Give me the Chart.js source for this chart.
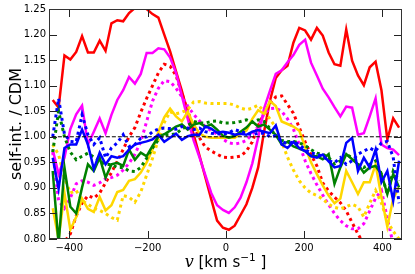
<!DOCTYPE html>
<html>
<head>
<meta charset="utf-8">
<script src="https://cdn.jsdelivr.net/npm/chart.js@4"></script>
<style>
  body { margin: 0; background: #fff; }
</style>
</head>
<body>
<canvas id="myChart" width="415" height="274"></canvas>
<script>
// bin centres [km/s]
let velocity = [-442.5, -427.5, -412.5, -397.5, -382.5, -367.5, -352.5, -337.5, -322.5, -307.5,
    -292.5, -277.5, -262.5, -247.5, -232.5, -217.5, -202.5, -187.5, -172.5, -157.5,
    -142.5, -127.5, -112.5, -97.5, -82.5, -67.5, -52.5, -37.5, -22.5, -7.5,
    7.5, 22.5, 37.5, 52.5, 67.5, 82.5, 97.5, 112.5, 127.5, 142.5,
    157.5, 172.5, 187.5, 202.5, 217.5, 232.5, 247.5, 262.5, 277.5, 292.5,
    307.5, 322.5, 337.5, 352.5, 367.5, 382.5, 397.5, 412.5, 427.5, 442.5];

let redSolid = [1.072, 1.057, 1.159, 1.151, 1.166, 1.197, 1.165, 1.165, 1.188, 1.168,
    1.222, 1.228, 1.226, 1.242, 1.252, 1.255, 1.25, 1.24, 1.233, 1.20,
    1.167, 1.128, 1.09, 1.047, 1.005, 0.963, 0.921, 0.878, 0.836, 0.822,
    0.818, 0.826, 0.847, 0.868, 0.90, 0.94, 1.01, 1.07, 1.115, 1.13,
    1.139, 1.184, 1.213, 1.208, 1.19, 1.213, 1.198, 1.165, 1.142, 1.139,
    1.21, 1.149, 1.12, 1.101, 1.136, 1.147, 1.091, 0.995, 1.036, 1.018];

let redDotted = [0.77, 0.78, 0.795, 0.81, 0.845, 0.87, 0.885, 0.88, 0.89, 0.91,
    0.93, 0.952, 0.975, 1.0, 1.018, 1.048, 1.075, 1.10, 1.125, 1.142,
    1.138, 1.12, 1.085, 1.05, 1.02, 0.998, 0.98, 0.972, 0.966, 0.96,
    0.959, 0.96, 0.962, 0.972, 0.99, 1.022, 1.045, 1.065, 1.078, 1.08,
    1.063, 1.046, 1.018, 0.99, 0.965, 0.943, 0.91, 0.894, 0.882, 0.871,
    0.855, 0.832, 0.81, 0.79, 0.78, 0.775, 0.77, 0.77, 0.77, 0.77];

let magentaSolid = [0.975, 0.927, 0.959, 1.015, 1.044, 1.061, 0.985, 1.01, 1.036, 1.007,
    1.043, 1.072, 1.091, 1.117, 1.104, 1.123, 1.164, 1.164, 1.173, 1.171,
    1.155, 1.125, 1.08, 1.035, 0.993, 0.96, 0.925, 0.89, 0.866, 0.857,
    0.851, 0.862, 0.881, 0.911, 0.948, 0.998, 1.055, 1.09, 1.123, 1.13,
    1.146, 1.16, 1.18, 1.19, 1.145, 1.12, 1.094, 1.077, 1.058, 1.04,
    1.059, 1.057, 1.004, 1.007, 1.04, 1.075, 0.985, 0.978, 0.975, 0.964];

let magentaDotted = [0.97, 0.875, 0.86, 0.88, 0.908, 0.914, 0.911, 0.905, 0.91, 0.918,
    0.92, 0.925, 0.935, 0.948, 0.966, 0.99, 1.03, 1.07, 1.095, 1.11,
    1.108, 1.095, 1.078, 1.06, 1.044, 1.031, 1.02, 1.012, 1.005, 0.995,
    0.988, 0.986, 0.988, 0.993, 1.005, 1.02, 1.045, 1.055, 1.056, 1.05,
    1.035, 1.015, 0.985, 0.953, 0.928, 0.906, 0.886, 0.867, 0.85, 0.836,
    0.826, 0.82, 0.82, 0.83, 0.855, 0.88, 0.895, 0.84, 0.79, 0.78];

let yellowSolid = [0.86, 0.80, 0.89, 0.818, 0.843, 0.879, 0.859, 0.853, 0.882, 0.856,
    0.866, 0.892, 0.896, 0.914, 0.917, 0.93, 0.95, 0.975, 1.01, 1.038,
    1.055, 1.04, 1.03, 1.049, 1.024, 1.007, 1.0, 0.998, 0.998, 0.998,
    0.998, 0.998, 1.005, 1.012, 1.035, 1.052, 1.045, 1.07, 1.06, 1.03,
    1.025, 1.02, 1.012, 0.98, 0.95, 0.927, 0.905, 0.885, 0.87, 0.879,
    0.933, 0.911, 0.888, 0.911, 0.911, 0.946, 0.882, 0.824, 0.879, 0.901];

let yellowDotted = [0.985, 0.965, 0.92, 0.89, 0.895, 0.875, 0.868, 0.86, 0.856, 0.85,
    0.842, 0.837, 0.885, 0.882, 0.872, 0.892, 0.925, 0.958, 0.995, 1.028,
    1.049, 1.045, 1.048, 1.053, 1.068, 1.069, 1.066, 1.065, 1.065, 1.065,
    1.065, 1.062, 1.056, 1.053, 1.056, 1.062, 1.05, 1.035, 1.018, 0.99,
    0.96, 0.935, 0.914, 0.90, 0.89, 0.885, 0.878, 0.868, 0.862, 0.859,
    0.863, 0.868, 0.863, 0.843, 0.87, 0.895, 0.87, 0.835, 0.815, 0.80];

let greenSolid = [0.933, 0.79, 0.94, 0.863, 0.85, 0.901, 0.946, 0.933, 0.959, 0.92,
    0.946, 0.949, 0.943, 0.975, 0.955, 0.969, 0.962, 0.982, 1.0, 1.005,
    1.012, 1.02, 1.024, 1.014, 1.024, 1.027, 1.02, 1.024, 1.014, 1.002,
    0.998, 1.002, 1.01, 1.018, 1.03, 1.02, 1.024, 1.014, 1.004, 0.985,
    0.99, 0.981, 0.977, 0.972, 0.962, 0.962, 0.956, 0.966, 0.908, 0.94,
    0.966, 0.956, 0.946, 0.93, 0.94, 0.943, 0.927, 0.888, 0.927, 0.901];

let greenDotted = [0.97, 1.05, 1.0, 0.97, 0.955, 0.962, 0.968, 0.96, 0.953, 0.946,
    0.946, 0.94, 0.94, 0.933, 0.932, 0.94, 0.958, 0.978, 0.994, 1.004,
    1.004, 1.006, 1.015, 1.022, 1.03, 1.027, 1.027, 1.03, 1.031, 1.027,
    1.027, 1.028, 1.03, 1.033, 1.028, 1.033, 1.03, 1.016, 1.003, 0.993,
    0.991, 0.991, 0.988, 0.983, 0.975, 0.968, 0.966, 0.959, 0.947, 0.953,
    0.966, 0.959, 0.946, 0.94, 0.946, 0.953, 0.927, 0.888, 0.933, 0.914];

let blueSolid = [0.959, 0.898, 0.978, 0.985, 0.985, 1.014, 0.985, 0.937, 0.969, 0.946,
    0.962, 0.959, 0.962, 0.975, 0.985, 0.988, 0.991, 0.995, 1.004, 0.99,
    0.998, 1.006, 0.994, 1.001, 1.004, 1.004, 1.02, 1.016, 1.008, 1.01,
    1.008, 1.004, 1.006, 1.004, 1.01, 1.013, 1.01, 1.007, 1.022, 0.985,
    0.978, 0.99, 0.978, 0.972, 0.962, 0.959, 0.965, 0.952, 0.94, 0.943,
    0.988, 0.998, 0.933, 0.959, 0.94, 0.975, 0.911, 0.933, 0.875, 0.953];

let blueDotted = [1.0, 1.075, 1.005, 0.991, 0.99, 1.043, 1.004, 0.985, 0.998, 0.959,
    0.978, 0.988, 1.004, 0.981, 0.985, 0.997, 1.0, 1.01, 1.015, 1.017,
    1.016, 1.015, 1.02, 1.017, 1.014, 1.017, 1.01, 1.007, 1.006, 1.005,
    1.008, 1.014, 1.01, 1.007, 1.004, 1.007, 1.007, 1.0, 1.002, 0.991,
    0.986, 0.99, 0.985, 0.975, 0.968, 0.966, 0.962, 0.953, 0.949, 0.959,
    0.946, 0.953, 0.966, 0.972, 0.978, 0.972, 0.988, 0.991, 0.96, 0.87];

let refLevel = 1.0;
let xTicks = [-400, -200, 0, 200, 400];
let yTicks = [0.80, 0.85, 0.90, 0.95, 1.00, 1.05, 1.10, 1.15, 1.20, 1.25];

function puntos(serie) {
    return serie.map((y, i) => ({ x: velocity[i], y: y }));
}

function linea(datos, color, punteada) {
    return {
        data: puntos(datos),
        borderColor: color,
        borderWidth: punteada ? 3 : 2.5,
        borderDash: punteada ? [3, 3.5] : [],
        borderCapStyle: "butt",
        pointRadius: 0,
        tension: 0,
        fill: false,
        clip: 0
    };
}

// marco y ticks hacia dentro en los cuatro lados, y titulo del eje x
let marcoPlugin = {
    id: "marco",
    afterDraw(chart) {
        let ctx = chart.ctx;
        let area = chart.chartArea;
        let sx = chart.scales.x;
        let sy = chart.scales.y;
        ctx.save();
        ctx.strokeStyle = "#222";
        ctx.lineWidth = 1;
        ctx.beginPath();
        xTicks.forEach(v => {
            let px = Math.round(sx.getPixelForValue(v)) + 0.5;
            ctx.moveTo(px, area.bottom);
            ctx.lineTo(px, area.bottom - 8);
            ctx.moveTo(px, area.top);
            ctx.lineTo(px, area.top + 8);
        });
        yTicks.forEach(v => {
            let py = Math.round(sy.getPixelForValue(v)) + 0.5;
            ctx.moveTo(area.left, py);
            ctx.lineTo(area.left + 8, py);
            ctx.moveTo(area.right, py);
            ctx.lineTo(area.right - 8, py);
        });
        ctx.stroke();
        ctx.strokeStyle = "#333";
        ctx.strokeRect(Math.round(area.left) + 0.5, Math.round(area.top) + 0.5,
            Math.round(area.right - area.left) - 1, Math.round(area.bottom - area.top) - 1);

        // "v [km s^-1 ]"
        let partes = [
            { t: "v", font: "italic 16px 'DejaVu Serif'", dy: 0 },
            { t: " [km s", font: "15px 'DejaVu Sans'", dy: 0 },
            { t: "\u22121", font: "10.5px 'DejaVu Sans'", dy: -6 },
            { t: " ]", font: "15px 'DejaVu Sans'", dy: 0 }
        ];
        let total = 0;
        partes.forEach(p => { ctx.font = p.font; p.w = ctx.measureText(p.t).width; total += p.w; });
        let x = (area.left + area.right) / 2 - total / 2;
        let base = 267;
        ctx.fillStyle = "#000";
        ctx.textBaseline = "alphabetic";
        ctx.textAlign = "left";
        partes.forEach(p => {
            ctx.font = p.font;
            ctx.fillText(p.t, x, base + p.dy);
            x += p.w;
        });
        ctx.restore();
    }
};

Chart.defaults.font.family = "'DejaVu Sans'";
Chart.defaults.font.size = 10;
Chart.defaults.color = "#000";

let canvas = document.getElementById("myChart");
let ctx = canvas.getContext("2d");

let myChart = new Chart(ctx, {
    type: "line",
    data: {
        datasets: [
            {
                data: [{ x: -460, y: refLevel }, { x: 460, y: refLevel }],
                borderColor: "#000",
                borderWidth: 1,
                borderDash: [4, 2],
                pointRadius: 0,
                fill: false,
                clip: 0
            },
            linea(blueSolid, "#0000ff", false),
            linea(blueDotted, "#0000ff", true),
            linea(greenSolid, "#008000", false),
            linea(greenDotted, "#008000", true),
            linea(yellowSolid, "#ffd700", false),
            linea(yellowDotted, "#ffd700", true),
            linea(magentaSolid, "#ff00ff", false),
            linea(magentaDotted, "#ff00ff", true),
            linea(redSolid, "#ff0000", false),
            linea(redDotted, "#ff0000", true)
        ]
    },
    options: {
        responsive: false,
        devicePixelRatio: 1,
        animation: false,
        layout: { padding: { top: 6, right: 13, left: 0, bottom: 0 } },
        plugins: { legend: { display: false }, tooltip: { enabled: false } },
        scales: {
            x: {
                type: "linear",
                min: -452,
                max: 450,
                grid: { display: false, drawTicks: false },
                border: { display: false },
                afterBuildTicks: scale => { scale.ticks = xTicks.map(v => ({ value: v })); },
                afterFit: scale => { scale.height = 35; },
                ticks: {
                    padding: 3,
                    maxRotation: 0,
                    callback: v => (v < 0 ? "\u2212" : "") + Math.abs(v)
                }
            },
            y: {
                type: "linear",
                min: 0.80,
                max: 1.25,
                grid: { display: false, drawTicks: false },
                border: { display: false },
                afterBuildTicks: scale => { scale.ticks = yTicks.map(v => ({ value: v })); },
                afterFit: scale => { scale.width = 49; },
                ticks: {
                    padding: 3,
                    callback: v => v.toFixed(2)
                },
                title: {
                    display: true,
                    text: "self-int. / CDM",
                    font: { size: 16 },
                    padding: { top: 7, bottom: 0 }
                }
            }
        }
    },
    plugins: [marcoPlugin]
});
</script>
</body>
</html>
